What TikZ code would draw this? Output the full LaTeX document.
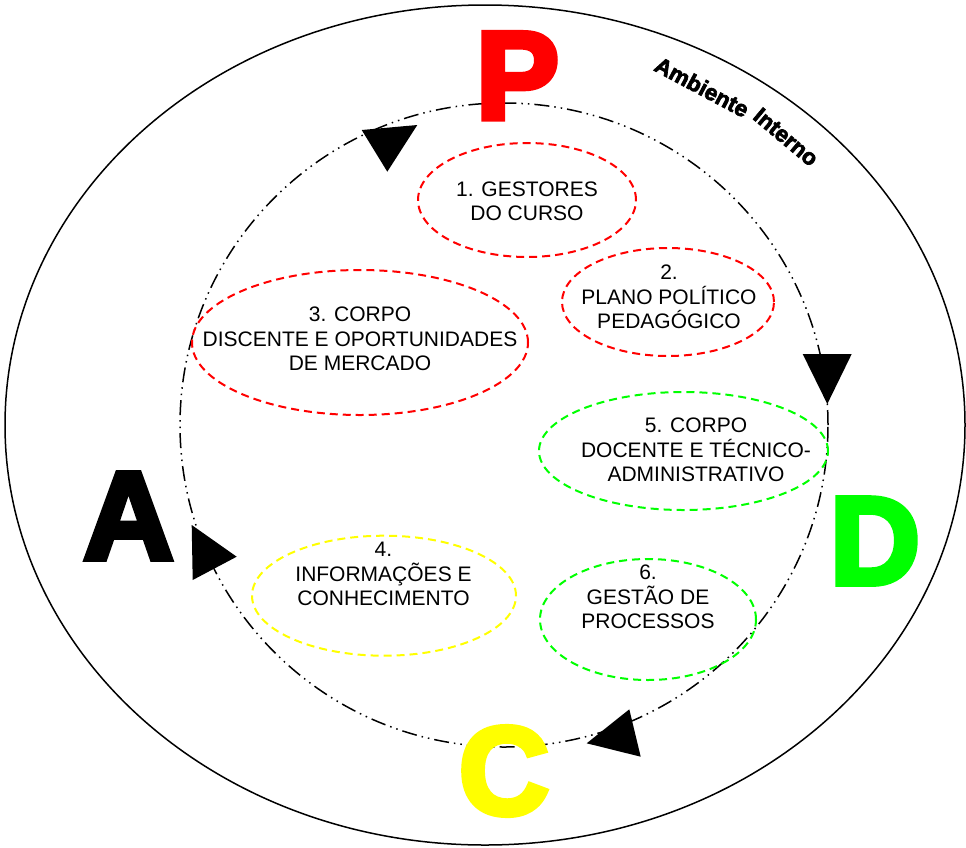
\documentclass[tikz,border=0pt]{standalone}
\usepackage{fontspec}
\setmainfont{Liberation Sans}
\newfontfamily\heavyfont[FakeBold=4.5]{Liberation Sans Bold}
\newfontfamily\ambfont[FakeBold=3]{Liberation Sans Bold}
\usetikzlibrary{shapes.geometric}
\definecolor{pred}{RGB}{255,0,0}
\definecolor{pgreen}{RGB}{0,255,0}
\definecolor{pyellow}{RGB}{255,255,0}
\begin{document}
\begin{tikzpicture}[x=1pt,y=-1pt,
  outerring/.style={line width=1.5pt},
  cyclering/.style={line width=1.5pt, dash pattern=on 15pt off 5pt on 1.5pt off 5pt on 1.5pt off 5pt},
  zone/.style={ellipse, draw, line width=2pt, dash pattern=on 8pt off 5pt, inner sep=0pt},
  lbl/.style={align=center, font=\fontsize{21}{24.5}\selectfont, inner sep=0pt},
  bigletter/.style={font=\heavyfont\fontsize{125}{125}\selectfont, inner sep=0pt},
  envlabel/.style={font=\ambfont\fontsize{22.5}{22.5}\selectfont, inner sep=0pt},
  arrowhead/.style={fill=black}
]
\useasboundingbox (0,0) rectangle (966,847);
\fill[white] (0,0) rectangle (966,847);
% outer environment
\draw[outerring] (485,425) ellipse [x radius=480pt, y radius=420pt];
\node[envlabel, rotate=-28] (amb) at (702,87) {Ambiente};
\node[envlabel, rotate=-40] (int) at (786,137) {Interno};
% PDCA cycle
\draw[cyclering] (504,425) ellipse [x radius=324pt, y radius=322pt];
% zones
\node[zone, draw=pred, minimum width=218pt, minimum height=114pt] (e1) at (527,200) {};
\node[zone, draw=pred, minimum width=212pt, minimum height=108pt] (e2) at (668,302) {};
\node[zone, draw=pred, minimum width=336pt, minimum height=145pt] (e3) at (360,342.5) {};
\node[zone, draw=pgreen, minimum width=289pt, minimum height=118pt] (e5) at (683.5,451) {};
\node[zone, draw=pyellow, minimum width=264pt, minimum height=120pt] (e4) at (384,595.7) {};
\node[zone, draw=pgreen, minimum width=216pt, minimum height=121pt] (e6) at (648,619.5) {};
% labels
\node[lbl] (t1) at (527,201.5) {1. GESTORES\\DO CURSO};
\node[lbl] (t2) at (669,297) {2.\\PLANO POLÍTICO\\PEDAGÓGICO};
\node[lbl] (t3) at (360,339) {3. CORPO\\DISCENTE E OPORTUNIDADES\\DE MERCADO};
\node[lbl] (t5) at (696,450) {5. CORPO\\DOCENTE E TÉCNICO-\\ADMINISTRATIVO};
\node[lbl] (t4) at (383.5,574) {4.\\INFORMAÇÕES E\\CONHECIMENTO};
\node[lbl] (t6) at (648,597) {6.\\GESTÃO DE\\PROCESSOS};
% big letters
\node[bigletter, text=pred] (P) at (517.5,75.8) {P};
\node[bigletter, text=black] (A) at (128.5,516) {A};
\node[bigletter, text=pgreen] (D) at (875,541) {D};
\node[bigletter, text=pyellow] (C) at (504,771) {C};
% arrowheads
\fill[arrowhead] (361.7,130) -- (417.3,125) -- (387.3,171.7) -- cycle;
\fill[arrowhead] (802.7,354) -- (851.7,354) -- (827.3,404) -- cycle;
\fill[arrowhead] (629.3,709.3) -- (640.7,756.7) -- (586.7,743.3) -- cycle;
\fill[arrowhead] (191.7,525) -- (192.7,580) -- (236.7,556.7) -- cycle;
\end{tikzpicture}
\end{document}
